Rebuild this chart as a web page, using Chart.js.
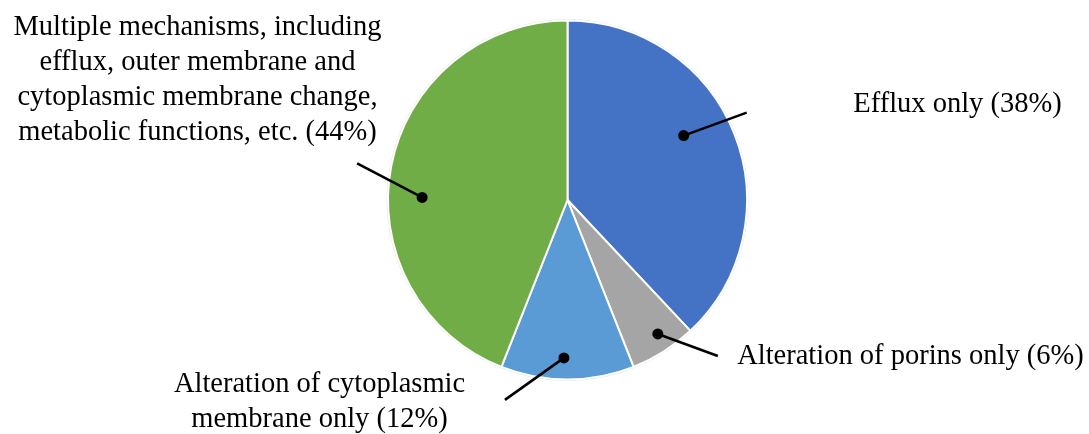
<!DOCTYPE html>
<html>
<head>
<meta charset="utf-8">
<script src="https://cdn.jsdelivr.net/npm/chart.js@4/dist/chart.umd.min.js"></script>
<style>
  html, body { margin: 0; padding: 0; background: #ffffff; }
  #wrap { width: 1089px; height: 434px; position: relative; }
</style>
</head>
<body>
<div id="wrap"><canvas id="c" width="1089" height="434"></canvas></div>
<script>
// ---- data ----
const categories = [
  "Efflux only",
  "Alteration of porins only",
  "Alteration of cytoplasmic membrane only",
  "Multiple mechanisms, including efflux, outer membrane and cytoplasmic membrane change, metabolic functions, etc."
];
const values = [38, 6, 12, 44];
const labelLines = [
  ["Efflux only (38%)"],
  ["Alteration of porins only (6%)"],
  ["Alteration of cytoplasmic", "membrane only (12%)"],
  ["Multiple mechanisms, including", "efflux, outer membrane and", "cytoplasmic membrane change,", "metabolic functions, etc. (44%)"]
];
const colors = ["#4472C4", "#A5A5A5", "#5B9BD5", "#70AD47"];

// ---- label layout (annotation styling, relative to pie centre) ----
const labelLayout = [
  { dAng: -7.4, frac: 0.74, lineDx: 63, lineDy: -23, tx: 390, ty: -95 },
  { dAng: -1.6, frac: 0.90, lineDx: 60, lineDy: 22, tx: 343, ty: 157 },
  { dAng: 1.3, frac: 0.88, lineDx: -59, lineDy: 42, tx: -248, ty: 202 },
  { dAng: -9.8, frac: 0.81, lineDx: -65, lineDy: -34, tx: -370, ty: -120 }
];
const FONT = '28.5px "Liberation Serif", "Times New Roman", serif';
const LINE_H = 35;

const labelPlugin = {
  id: 'pieLabels',
  afterDatasetsDraw(chart) {
    const ctx = chart.ctx;
    const meta = chart.getDatasetMeta(0);
    ctx.save();
    meta.data.forEach((arc, i) => {
      const p = arc.getProps(['x', 'y', 'startAngle', 'endAngle', 'outerRadius'], true);
      const L = labelLayout[i];
      const mid = (p.startAngle + p.endAngle) / 2 + L.dAng * Math.PI / 180;
      const dx = p.x + Math.cos(mid) * p.outerRadius * L.frac;
      const dy = p.y + Math.sin(mid) * p.outerRadius * L.frac;
      ctx.strokeStyle = '#000';
      ctx.lineWidth = 2.6;
      ctx.beginPath();
      ctx.moveTo(dx, dy);
      ctx.lineTo(dx + L.lineDx, dy + L.lineDy);
      ctx.stroke();
      ctx.fillStyle = '#000';
      ctx.beginPath();
      ctx.arc(dx, dy, 5.5, 0, Math.PI * 2);
      ctx.fill();
      ctx.font = FONT;
      ctx.textAlign = 'center';
      ctx.textBaseline = 'middle';
      const lines = labelLines[i];
      const cx = p.x + L.tx, cy = p.y + L.ty;
      const top = cy - (lines.length - 1) * LINE_H / 2;
      lines.forEach((t, k) => ctx.fillText(t, cx, top + k * LINE_H));
    });
    ctx.restore();
  }
};

const outlinePlugin = {
  id: 'pieOutline',
  beforeDatasetsDraw(chart) {
    const arc = chart.getDatasetMeta(0).data[0];
    if (!arc) return;
    const ctx = chart.ctx;
    ctx.save();
    ctx.strokeStyle = '#E4E4E4';
    ctx.lineWidth = 1;
    ctx.beginPath();
    ctx.arc(arc.x, arc.y, arc.outerRadius + 1, 0, Math.PI * 2);
    ctx.stroke();
    ctx.restore();
  }
};

new Chart(document.getElementById('c'), {
  type: 'pie',
  data: {
    labels: categories,
    datasets: [{
      data: values,
      backgroundColor: colors,
      borderColor: '#ffffff',
      borderWidth: 2,
      radius: 179.5
    }]
  },
  options: {
    responsive: false,
    animation: false,
    layout: { padding: { left: 46, right: 0, top: 0, bottom: 34 } },
    plugins: {
      legend: { display: false },
      tooltip: { enabled: false }
    }
  },
  plugins: [outlinePlugin, labelPlugin]
});
</script>
</body>
</html>
